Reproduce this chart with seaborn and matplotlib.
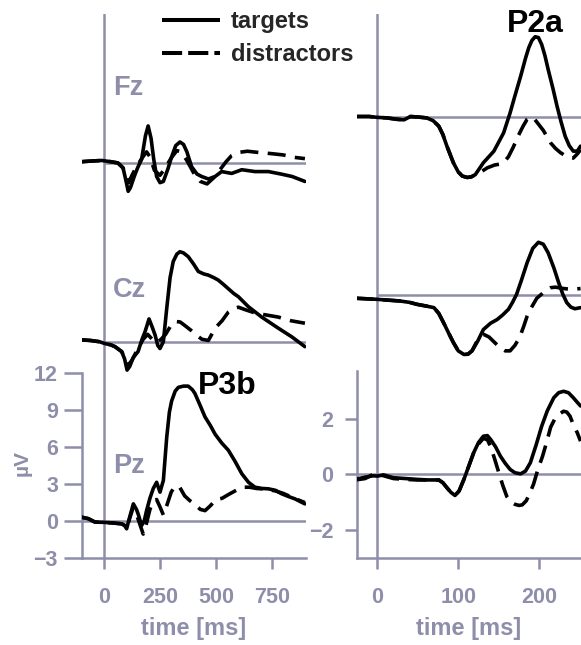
import numpy as np
import pandas as pd
import matplotlib
matplotlib.use("Agg")
import matplotlib.pyplot as plt
from matplotlib.lines import Line2D
import seaborn as sns

sns.set_style("white")
plt.rcParams["font.family"] = ["Liberation Sans", "DejaVu Sans"]
plt.rcParams["font.weight"] = "bold"

GRAY = "#8e8eab"

# ---------------- data: long window (left panel) ----------------
fz_t_time = [-100, -60, -10, 30, 62, 85, 100, 108, 118, 135, 150, 168, 185, 197, 210, 222, 235, 250, 265,
             285, 302, 320, 339, 355, 370, 391, 415, 436, 466, 496, 525, 570, 615, 674, 734, 790, 840, 897]
fz_t_val = [0.1, 0.15, 0.2, 0.1, 0.0, -0.4, -1.6, -2.3, -2.0, -1.1, -0.4, 0.3, 2.2, 3.0, 2.0, 0.3, -1.1, -1.6, -1.5,
            -0.5, 0.5, 1.4, 1.7, 1.5, 0.9, -0.3, -0.9, -1.1, -1.3, -1.1, -0.7, -0.85, -0.55, -0.7, -0.7, -0.9, -1.1, -1.5]
fz_d_time = [-100, -60, -10, 30, 62, 85, 100, 110, 125, 145, 170, 190, 205, 225, 250, 270, 300, 325, 345, 370,
             400, 430, 460, 490, 520, 545, 570, 600, 640, 690, 750, 800, 850, 897]
fz_d_val = [0.1, 0.15, 0.2, 0.1, 0.0, -0.4, -1.2, -1.6, -1.0, -0.3, 0.4, 0.9, 0.5, -0.6, -1.0, -0.5, 0.4, 1.0, 0.9, 0.2,
            -0.8, -1.5, -1.7, -1.2, -0.5, 0.1, 0.6, 0.85, 0.95, 0.85, 0.75, 0.65, 0.45, 0.35]

cz_t_time = [-100, -60, -20, 4, 30, 49, 79, 92, 103, 115, 130, 152, 170, 183, 201, 215, 228, 240, 250, 265, 280,
             295, 309, 325, 339, 355, 376, 400, 421, 445, 466, 490, 510, 530, 555, 580, 600, 644, 704, 778, 838, 897]
cz_t_val = [0.15, 0.1, 0.0, -0.15, -0.25, -0.4, -0.8, -1.4, -2.3, -2.0, -1.3, -0.8, 0.2, 0.8, 1.85, 1.2, 0.55, -0.3,
            -0.55, 0.0, 2.7, 5.2, 6.5, 7.1, 7.3, 7.2, 6.9, 6.3, 5.7, 5.5, 5.4, 5.2, 5.0, 4.7, 4.3, 3.9, 3.65, 2.85,
            2.0, 1.1, 0.4, -0.4]
cz_d_time = [-100, -60, -20, 4, 30, 49, 79, 92, 108, 125, 150, 175, 195, 215, 235, 255, 275, 295, 317, 340, 362,
             390, 415, 437, 466, 496, 527, 555, 580, 600, 630, 680, 730, 778, 835, 897]
cz_d_val = [0.15, 0.1, 0.0, -0.15, -0.25, -0.4, -0.8, -1.3, -1.9, -1.5, -0.6, 0.2, 0.6, 0.2, -0.1, 0.2, 0.6, 1.2,
            1.65, 1.6, 1.3, 0.9, 0.5, 0.2, 0.1, 1.1, 1.7, 2.4, 2.7, 2.8, 2.6, 2.3, 2.15, 2.0, 1.7, 1.5]

pz_t_time = [-100, -70, -40, 0, 40, 79, 92, 101, 115, 131, 145, 153, 168, 180, 190, 205, 220, 235, 250, 265, 280,
             292, 302, 318, 332, 355, 376, 395, 406, 430, 451, 475, 496, 525, 555, 585, 615, 645, 674, 705, 734,
             765, 793, 823, 853, 880, 897]
pz_t_val = [0.27, 0.15, -0.13, -0.15, -0.2, -0.27, -0.4, -0.67, 0.3, 1.35, 0.9, 0.5, -0.4, 0.0, 0.8, 1.8, 2.6, 3.1,
            2.3, 3.25, 6.75, 8.8, 9.7, 10.5, 10.8, 10.9, 10.9, 10.6, 10.3, 9.3, 8.4, 7.7, 7.0, 6.3, 5.7, 4.8, 3.8,
            3.1, 2.7, 2.6, 2.57, 2.45, 2.17, 1.95, 1.75, 1.5, 1.35]
pz_d_time = [-100, -70, -40, 0, 40, 79, 92, 101, 115, 131, 145, 160, 175, 190, 205, 220, 235, 250, 265, 280, 300,
             317, 338, 360, 384, 406, 430, 451, 475, 500, 527, 555, 585, 616, 650, 680, 720, 765, 800, 850, 897]
pz_d_val = [0.27, 0.15, -0.13, -0.15, -0.2, -0.27, -0.4, -0.67, 0.2, 1.1, 0.5, -0.3, -1.1, -0.2, 0.9, 1.6, 1.7,
            1.1, 0.45, 1.2, 2.3, 2.8, 2.7, 2.0, 1.6, 1.3, 0.9, 0.8, 1.2, 1.7, 1.8, 2.1, 2.4, 2.7, 2.7, 2.6, 2.55,
            2.4, 2.2, 1.8, 1.45]

# ---------------- data: short window (right panel) ----------------
rfz_t_time = [-27, -10, 0, 12, 24, 33, 41, 51, 61, 69, 76, 81, 86, 94, 100, 105, 111, 116, 121, 131, 144, 156, 164,
              170, 177, 183, 187, 191, 195, 199, 203, 207, 211, 217, 222, 227, 232, 237, 242, 247, 251]
rfz_t_val = [0.0, 0.0, -0.03, -0.05, -0.1, -0.12, 0.0, -0.02, -0.05, -0.15, -0.35, -0.65, -1.07, -1.67, -2.0, -2.15,
             -2.2, -2.18, -2.1, -1.67, -1.25, -0.59, 0.13, 0.75, 1.45, 2.1, 2.48, 2.75, 2.88, 2.85, 2.6, 2.2, 1.7,
             1.0, 0.37, -0.2, -0.71, -1.05, -1.25, -1.25, -1.07]
rfz_d_time = [-27, -10, 0, 12, 24, 33, 41, 51, 61, 69, 76, 81, 86, 94, 100, 105, 111, 116, 121, 128, 136, 145, 155,
              162, 168, 174, 180, 185, 189, 193, 197, 205, 214, 220, 226, 234, 242, 247, 251]
rfz_d_val = [0.0, 0.0, -0.03, -0.05, -0.1, -0.12, 0.0, -0.02, -0.05, -0.15, -0.35, -0.65, -1.07, -1.67, -2.0,
             -2.15, -2.2, -2.18, -2.1, -2.0, -1.85, -1.75, -1.7, -1.45, -1.1, -0.7, -0.35, -0.1, -0.02, -0.05,
             -0.2, -0.5, -0.95, -1.15, -1.3, -1.45, -1.5, -1.35, -1.2]

rcz_t_time = [-27, 0, 14, 28, 40, 49, 60, 70, 76, 82, 88, 94, 100, 107, 112, 117, 124, 131, 140, 148, 155, 162, 167,
              172, 178, 185, 192, 199, 205, 211, 218, 224, 229, 234, 239, 244, 251]
rcz_t_val = [-0.1, -0.14, -0.17, -0.2, -0.25, -0.32, -0.38, -0.44, -0.65, -0.99, -1.35, -1.7, -2.0, -2.13, -2.12,
             -2.0, -1.65, -1.23, -1.0, -0.87, -0.7, -0.5, -0.25, 0.04, 0.55, 1.18, 1.7, 1.92, 1.85, 1.54, 1.0,
             0.46, 0.05, -0.26, -0.42, -0.48, -0.44]
rcz_d_time = [-27, 0, 14, 28, 40, 49, 60, 70, 76, 82, 88, 94, 100, 107, 112, 117, 124, 131, 138, 145, 152, 158,
              164, 170, 176, 181, 185, 189, 193, 197, 201, 205, 210, 214, 220, 230, 240, 251]
rcz_d_val = [-0.1, -0.14, -0.17, -0.2, -0.25, -0.32, -0.38, -0.44, -0.65, -0.99, -1.35, -1.7, -2.0, -2.13, -2.12,
             -2.0, -1.6, -1.4, -1.5, -1.7, -1.9, -2.0, -2.0, -1.8, -1.5, -1.1, -0.75, -0.5, -0.3, -0.1, 0.0, 0.1,
             0.22, 0.28, 0.3, 0.25, 0.22, 0.25]

rpz_t_time = [-27, -15, -5, 0, 8, 20, 35, 49, 62, 76, 81, 86, 91, 96, 101, 107, 113, 119, 125, 131, 136, 140, 146,
              152, 158, 164, 170, 177, 183, 189, 196, 203, 210, 218, 224, 230, 236, 242, 247, 251]
rpz_t_val = [-0.18, -0.1, -0.05, -0.06, -0.02, -0.12, -0.15, -0.18, -0.2, -0.2, -0.3, -0.48, -0.65, -0.76, -0.6,
             -0.18, 0.3, 0.78, 1.15, 1.38, 1.4, 1.26, 1.0, 0.66, 0.4, 0.18, 0.06, 0.02, 0.12, 0.42, 1.05, 1.74,
             2.3, 2.77, 2.95, 3.0, 2.95, 2.77, 2.6, 2.47]
rpz_d_time = [-27, -15, -5, 0, 8, 20, 35, 49, 62, 76, 81, 86, 91, 96, 101, 107, 113, 119, 125, 131, 136, 140, 145,
              150, 155, 160, 165, 170, 175, 179, 184, 188, 193, 198, 204, 209, 214, 220, 226, 230, 234, 238, 242,
              247, 251]
rpz_d_val = [-0.2, -0.15, 0.0, 0.02, -0.05, -0.15, -0.18, -0.2, -0.2, -0.2, -0.3, -0.48, -0.65, -0.76, -0.6, -0.18,
             0.3, 0.78, 1.1, 1.3, 1.25, 1.0, 0.55, 0.07, -0.4, -0.8, -1.0, -1.08, -1.12, -1.1, -0.95, -0.7, -0.35,
             0.15, 0.65, 1.15, 1.7, 2.05, 2.2, 2.28, 2.25, 2.1, 1.8, 1.5, 1.2]

conditions = ["targets", "distractors"]
electrodes = ["Fz", "Cz", "Pz"]
left_offsets = {"Fz": 29.0, "Cz": 14.5, "Pz": 0.0}
right_offsets = {"Fz": 12.92, "Cz": 6.46, "Pz": 0.0}

left_data = {("Fz", "targets"): (fz_t_time, fz_t_val), ("Fz", "distractors"): (fz_d_time, fz_d_val),
             ("Cz", "targets"): (cz_t_time, cz_t_val), ("Cz", "distractors"): (cz_d_time, cz_d_val),
             ("Pz", "targets"): (pz_t_time, pz_t_val), ("Pz", "distractors"): (pz_d_time, pz_d_val)}
right_data = {("Fz", "targets"): (rfz_t_time, rfz_t_val), ("Fz", "distractors"): (rfz_d_time, rfz_d_val),
              ("Cz", "targets"): (rcz_t_time, rcz_t_val), ("Cz", "distractors"): (rcz_d_time, rcz_d_val),
              ("Pz", "targets"): (rpz_t_time, rpz_t_val), ("Pz", "distractors"): (rpz_d_time, rpz_d_val)}

# ---------------- figure layout ----------------
W, H = 581, 645
fig = plt.figure(figsize=(W / 100, H / 100), dpi=100)
bot_px, top_px = 557.5, 14.0
ax_h = (bot_px - top_px) / H
axL = fig.add_axes([81.6 / W, (H - bot_px) / H, 224 / W, ax_h])
axR = fig.add_axes([357 / W, (H - bot_px) / H, 224 / W, ax_h])
axL.set_xlim(-100, 900)
axL.set_ylim(-3, -3 + (bot_px - top_px) / 12.33)
axR.set_xlim(-25, -25 + 224 / 0.81)
axR.set_ylim(-3, -3 + (bot_px - top_px) / 27.7)

TRACE_LW = 2.6
DASH = (0, (5.0, 2.6))


def draw(ax, data, offsets, xmax):
    ax.axvline(0, color=GRAY, lw=1.8, zorder=1)
    for el in electrodes:
        off = offsets[el]
        if off != 0:
            ax.hlines(off, 0, xmax, color=GRAY, lw=1.8, zorder=1)
        else:
            ax.axhline(0, color=GRAY, lw=1.8, zorder=1)
        for cond in conditions:
            t, v = data[(el, cond)]
            df = pd.DataFrame({"time": t, "uv": np.asarray(v) + off})
            ls = "-" if cond == "targets" else DASH
            sns.lineplot(data=df, x="time", y="uv", ax=ax, color="black", lw=TRACE_LW,
                         linestyle=ls, sort=False, estimator=None, zorder=3)
    for ln in ax.lines:
        ln.set_solid_joinstyle("round")
        ln.set_solid_capstyle("round")
        ln.set_dash_capstyle("butt")


draw(axL, left_data, left_offsets, 900)
draw(axR, right_data, right_offsets, axR.get_xlim()[1])

for ax in (axL, axR):
    for s in ("top", "right"):
        ax.spines[s].set_visible(False)
    for s in ("left", "bottom"):
        ax.spines[s].set_color(GRAY)
        ax.spines[s].set_linewidth(1.8)
    ax.set_xlabel("time [ms]", fontsize=17, color=GRAY, fontweight="bold", labelpad=7)
    ax.tick_params(axis="x", direction="out", length=8, width=1.8, color=GRAY, labelcolor=GRAY,
                   labelsize=15.5, pad=13, bottom=True)
    ax.grid(False)

axL.spines["left"].set_bounds(-3, 12)
axR.spines["left"].set_bounds(-3, 3.72)
axL.set_xticks([0, 250, 500, 750])
axR.set_xticks([0, 100, 200])
axL.set_yticks([-3, 0, 3, 6, 9, 12])
axR.set_yticks([-2, 0, 2])
axL.tick_params(axis="y", direction="out", length=13, width=1.8, color=GRAY, labelcolor=GRAY,
                labelsize=15.5, pad=4, left=True)
axR.tick_params(axis="y", direction="out", length=9, width=1.8, color=GRAY, labelcolor=GRAY,
                labelsize=15.5, pad=8, left=True)
axL.set_ylabel("µV", fontsize=15, color=GRAY, fontweight="bold")
axL.yaxis.set_label_coords(-0.225, 0.174)
axR.set_ylabel("")

# electrode labels
axL.text(40, 35.1, "Fz", color=GRAY, fontsize=19.5, fontweight="bold", ha="left", va="center")
axL.text(40, 18.7, "Cz", color=GRAY, fontsize=19.5, fontweight="bold", ha="left", va="center")
axL.text(40, 4.4, "Pz", color=GRAY, fontsize=19.5, fontweight="bold", ha="left", va="center")

# component labels
axL.text(549, 10.3, "P3b", color="black", fontsize=23, fontweight="bold", ha="center", va="baseline")
axR.text(195, 15.96, "P2a", color="black", fontsize=23, fontweight="bold", ha="center", va="baseline")

# legend
handles = [Line2D([], [], color="black", lw=2.9, solid_capstyle="butt"),
           Line2D([], [], color="black", lw=2.9, linestyle=(0, (5, 1.5)), dash_capstyle="butt")]
fig.legend(handles, conditions, loc="upper left", bbox_to_anchor=(162 / W, 1 - 10 / H),
           frameon=False, fontsize=17, handlelength=2.46, handletextpad=0.45, labelspacing=0.42,
           borderpad=0, borderaxespad=0, prop={"weight": "bold", "size": 17})

fig.savefig("out.png", dpi=100)
